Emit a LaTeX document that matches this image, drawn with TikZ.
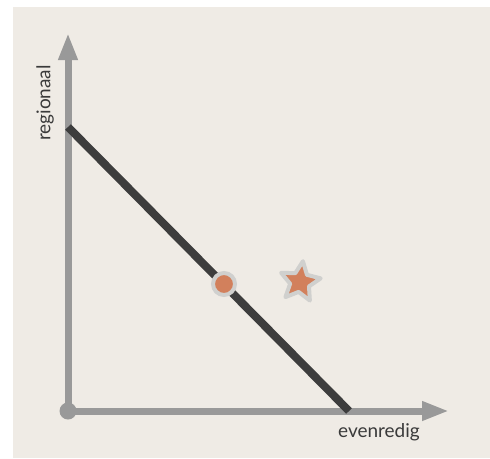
\documentclass[tikz,border=0pt]{standalone}
\usepackage{fontspec}
\setmainfont{Lato}
\usepackage{tikz}
\usetikzlibrary{arrows.meta, positioning, shapes.geometric}
\usepackage{xcolor}
\definecolor{paper}{HTML}{EFEBE5}
\definecolor{axisgray}{HTML}{999999}
\definecolor{linegray}{HTML}{3D3D3D}
\definecolor{ringgray}{HTML}{D0D0CE}
\definecolor{clay}{HTML}{D2805C}
\definecolor{labeltext}{HTML}{3A3A3A}

\begin{document}
\begin{tikzpicture}[x=1pt, y=-1pt,
    axis/.style={draw=axisgray, line width=7pt, -{Triangle[length=27pt, width=18pt]}},
    axislabel/.style={text=labeltext, font=\fontsize{19}{22}\selectfont, inner sep=0pt},
    marker/.style={fill=clay, draw=ringgray, line width=4pt, inner sep=0pt}]
    \useasboundingbox (0,0) rectangle (490,458);
    \fill[paper] (13,7) rectangle (490,458);
    \coordinate (origin) at (68,411);
    \coordinate (xtip) at (449,411);
    \coordinate (ytip) at (68,33);
    \coordinate (ystart) at (68,127);
    \coordinate (xstart) at (349,411);
    \draw[axis] (origin) -- (xtip);
    \draw[axis] (origin) -- (ytip);
    \fill[axisgray] (origin) circle (8.5);
    \draw[linegray, line width=8pt] (ystart) -- (xstart);
    \node[marker, circle, minimum size=22pt] (current) at (224,284) {};
    \node[marker, star, star points=5, star point ratio=2.1, minimum size=42pt,
          line join=round, rotate=-8] (ideal) at (300,282) {};
    \node[axislabel, rotate=90] (regionaal) at (45,103) {regionaal};
    \node[axislabel] (evenredig) at (379,432) {evenredig};
\end{tikzpicture}
\end{document}
